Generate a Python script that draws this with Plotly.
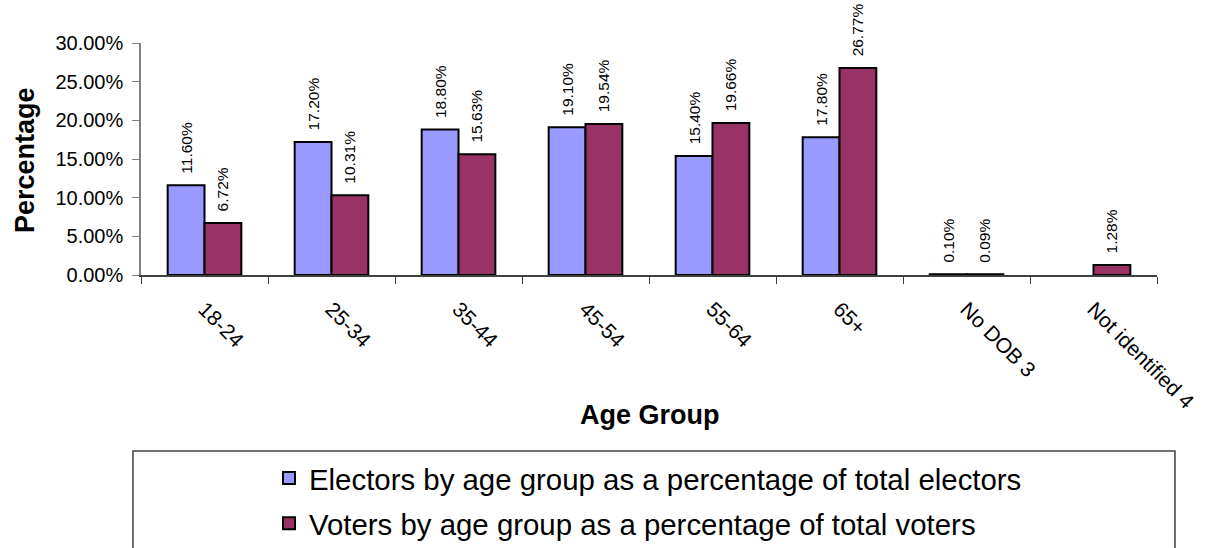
import plotly.graph_objects as go

categories = ["18-24", "25-34", "35-44", "45-54", "55-64", "65+", "No DOB 3", "Not identified 4"]
electors = [0.116, 0.172, 0.188, 0.191, 0.154, 0.178, 0.001, None]
voters = [0.0672, 0.1031, 0.1563, 0.1954, 0.1966, 0.2677, 0.0009, 0.0128]
series_names = ["Electors by age group as a percentage of total electors",
                "Voters by age group as a percentage of total voters"]
y_ticks = [0, 0.05, 0.10, 0.15, 0.20, 0.25, 0.30]

FONT = "Liberation Sans, Arial, sans-serif"
PAD = "\u00a0\u00a0"


def labels(vals):
    return ["" if v is None else PAD + f"{v*100:.2f}%" for v in vals]


fig = go.Figure()
for name, vals, color, grp in [(series_names[0], electors, "#9999FF", "a"),
                               (series_names[1], voters, "#993366", "b")]:
    fig.add_trace(go.Bar(
        x=categories, y=vals, name=name, legendgroup=grp,
        marker=dict(color=color, line=dict(color="black", width=2)),
        text=labels(vals), textposition="outside", textangle=-90,
        textfont=dict(family=FONT, size=15.5, color="black"),
        cliponaxis=False, constraintext="none",
    ))

fig.update_layout(
    width=1209, height=548,
    margin=dict(l=141, r=52, t=43, b=273, autoexpand=False),
    paper_bgcolor="white", plot_bgcolor="white",
    font=dict(family=FONT, color="black"),
    barmode="group", bargap=0.42, bargroupgap=0,
    showlegend=True,
    legend=dict(
        orientation="v", x=0.499, xanchor="center", y=-0.765, yanchor="top",
        font=dict(family=FONT, size=29.4, color="black"),
        tracegroupgap=4, bgcolor="rgba(0,0,0,0)",
    ),
    xaxis=dict(
        type="category", tickangle=45, tickson="boundaries",
        ticks="outside", ticklen=7, tickcolor="#404040",
        showline=True, linecolor="#404040", linewidth=1.5,
        tickfont=dict(family=FONT, size=21, color="black"),
        ticklabelstandoff=12, showgrid=False, range=[-0.5, 7.5],
        automargin=False,
    ),
    yaxis=dict(
        range=[0, 0.30], tickvals=y_ticks, tickformat=".2%",
        ticks="outside", ticklen=7, tickcolor="#808080",
        showline=True, linecolor="#808080", linewidth=1.5,
        tickfont=dict(family=FONT, size=20, color="black"),
        ticklabelstandoff=5,
        showgrid=False, zeroline=False, automargin=False,
    ),
    shapes=[dict(type="rect", xref="paper", yref="paper",
                 x0=-0.0079, x1=1.0177, y0=-1.6, y1=-0.7586,
                 line=dict(color="#404040", width=1.5), fillcolor="rgba(0,0,0,0)", layer="below")],
    annotations=[
        dict(text="<b>Age Group</b>", xref="paper", yref="paper", x=0.501, y=-0.603,
             showarrow=False, font=dict(family=FONT, size=27, color="black"),
             xanchor="center", yanchor="middle"),
        dict(text="<b>Percentage</b>", xref="paper", yref="paper", x=-0.114, y=0.496,
             showarrow=False, textangle=-90, font=dict(family=FONT, size=27, color="black"),
             xanchor="center", yanchor="middle"),
    ],
)

fig.write_html("out.html", config={"displayModeBar": False},
               post_script="document.body.style.margin='0';")
